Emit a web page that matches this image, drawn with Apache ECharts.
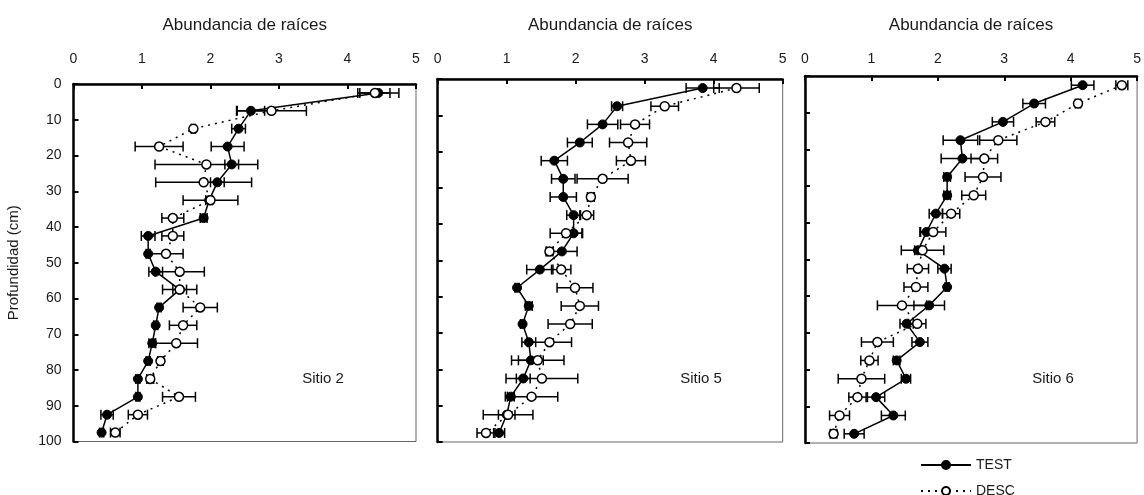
<!DOCTYPE html>
<html>
<head>
<meta charset="utf-8">
<script src="https://cdn.jsdelivr.net/npm/echarts@6/dist/echarts.min.js"></script>
<style>
html,body{margin:0;padding:0;background:#fff;}
#chart{width:1144px;height:495px;}
</style>
</head>
<body>
<div id="chart"></div>
<script>
// ---- data ----
const depths = [2.5, 7.5, 12.5, 17.5, 22.5, 27.5, 32.5, 37.5, 42.5, 47.5, 52.5, 57.5, 62.5, 67.5, 72.5, 77.5, 82.5, 87.5, 92.5, 97.5];
const yTicks = [0, 10, 20, 30, 40, 50, 60, 70, 80, 90, 100];
const xTicks = [0, 1, 2, 3, 4, 5];
const siteNames = ['Sitio 2', 'Sitio 5', 'Sitio 6'];
const legendNames = ['TEST', 'DESC'];

const s2Test    = [4.45, 2.59, 2.41, 2.25, 2.31, 2.10, 1.98, 1.90, 1.09, 1.09, 1.20, 1.55, 1.25, 1.20, 1.15, 1.09, 0.94, 0.94, 0.49, 0.41];
const s2TestErr = [0.30, 0.20, 0.10, 0.24, 0.10, 0.10, 0.05, 0.05, 0.10, 0.03, 0.10, 0.10, 0.03, 0.03, 0.05, 0.03, 0.03, 0.03, 0.09, 0.03];
const s2Desc    = [4.40, 2.89, 1.75, 1.25, 1.94, 1.90, 2.00, 1.45, 1.45, 1.35, 1.55, 1.55, 1.85, 1.60, 1.50, 1.27, 1.12, 1.54, 0.94, 0.61];
const s2DescErr = [0.22, 0.51, 0.03, 0.35, 0.75, 0.70, 0.40, 0.16, 0.16, 0.25, 0.36, 0.25, 0.25, 0.20, 0.31, 0.04, 0.05, 0.24, 0.14, 0.07];

const s5Test    = [3.84, 2.60, 2.39, 2.06, 1.69, 1.82, 1.82, 1.97, 1.97, 1.80, 1.48, 1.15, 1.32, 1.23, 1.32, 1.35, 1.24, 1.06, 1.00, 0.89];
const s5TestErr = [0.24, 0.08, 0.22, 0.18, 0.19, 0.17, 0.19, 0.10, 0.13, 0.22, 0.19, 0.03, 0.05, 0.03, 0.10, 0.18, 0.10, 0.05, 0.12, 0.08];
const s5Desc    = [4.33, 3.29, 2.86, 2.76, 2.80, 2.39, 2.22, 2.16, 1.86, 1.62, 1.79, 1.99, 2.06, 1.92, 1.62, 1.45, 1.51, 1.36, 1.02, 0.70];
const s5DescErr = [0.33, 0.20, 0.21, 0.27, 0.21, 0.37, 0.05, 0.10, 0.23, 0.05, 0.14, 0.26, 0.27, 0.32, 0.32, 0.38, 0.52, 0.38, 0.36, 0.13];

const s6Test    = [4.18, 3.45, 2.98, 2.34, 2.37, 2.14, 2.14, 1.97, 1.83, 1.70, 2.10, 2.14, 1.87, 1.53, 1.73, 1.38, 1.52, 1.07, 1.33, 0.74];
const s6TestErr = [0.17, 0.17, 0.16, 0.26, 0.32, 0.05, 0.05, 0.10, 0.10, 0.05, 0.10, 0.03, 0.23, 0.10, 0.12, 0.05, 0.07, 0.13, 0.18, 0.15];
const s6Desc    = [4.77, 4.11, 3.62, 2.91, 2.70, 2.68, 2.54, 2.20, 1.93, 1.77, 1.70, 1.67, 1.46, 1.69, 1.09, 0.97, 0.85, 0.79, 0.52, 0.43];
const s6DescErr = [0.09, 0.04, 0.14, 0.28, 0.20, 0.27, 0.18, 0.13, 0.19, 0.32, 0.16, 0.18, 0.37, 0.13, 0.24, 0.13, 0.35, 0.13, 0.15, 0.05];

// ---- layout / style ----
const FONT = '"Liberation Sans", Arial, Helvetica, sans-serif';
const TXT = '#1a1a1a';
const panels = [
  {grid: {left: 73.5, top: 84, width: 342.5, height: 357.5}, labelMargin: 18, nameGap: 50, yLabels: true,
   test: s2Test, testErr: s2TestErr, desc: s2Desc, descErr: s2DescErr, sitePos: [323, 379]},
  {grid: {left: 437.7, top: 79, width: 345, height: 363}, labelMargin: 13, nameGap: 45, yLabels: false,
   test: s5Test, testErr: s5TestErr, desc: s5Desc, descErr: s5DescErr, sitePos: [701, 379]},
  {grid: {left: 805, top: 76, width: 335, height: 367}, labelMargin: 10, nameGap: 42, yLabels: false,
   test: s6Test, testErr: s6TestErr, desc: s6Desc, descErr: s6DescErr, sitePos: [1053, 379]}
];

function errRender(params, api) {
  const x = api.value(0), e = api.value(1), y = api.value(2);
  const a = api.coord([x - e, y]);
  const b = api.coord([x + e, y]);
  const h = 5;
  const st = {stroke: '#000', lineWidth: 1.5, fill: null};
  return {
    type: 'group',
    children: [
      {type: 'line', shape: {x1: a[0], y1: a[1], x2: b[0], y2: b[1]}, style: st},
      {type: 'line', shape: {x1: a[0], y1: a[1] - h, x2: a[0], y2: a[1] + h}, style: st},
      {type: 'line', shape: {x1: b[0], y1: b[1] - h, x2: b[0], y2: b[1] + h}, style: st}
    ]
  };
}

const grid = [], xAxis = [], yAxis = [], series = [], graphic = [];
panels.forEach((p, i) => {
  grid.push(Object.assign({show: true, borderColor: '#666', borderWidth: 1, backgroundColor: 'transparent'}, p.grid));
  xAxis.push({
    gridIndex: i, type: 'value', position: 'top', min: xTicks[0], max: xTicks[xTicks.length - 1], interval: 1,
    name: 'Abundancia de raíces', nameLocation: 'middle', nameGap: p.nameGap,
    nameTextStyle: {fontFamily: FONT, fontSize: 17, color: TXT},
    axisLine: {show: true, onZero: false, lineStyle: {color: '#000', width: 2.5}},
    axisTick: {show: true, inside: true, length: 5, lineStyle: {color: '#000', width: 2}},
    axisLabel: {show: true, margin: p.labelMargin, fontFamily: FONT, fontSize: 14, color: TXT},
    splitLine: {show: false}
  });
  yAxis.push({
    gridIndex: i, type: 'value', inverse: true, min: yTicks[0], max: yTicks[yTicks.length - 1], interval: 10,
    name: i === 0 ? 'Profundidad (cm)' : '', nameLocation: 'middle', nameGap: 52, nameRotate: 90,
    nameTextStyle: {fontFamily: FONT, fontSize: 15, color: TXT},
    axisLine: {show: true, onZero: false, lineStyle: {color: '#000', width: 2.5}},
    axisTick: {show: true, inside: true, length: 5, lineStyle: {color: '#000', width: 2}},
    axisLabel: {show: p.yLabels, margin: 12, fontFamily: FONT, fontSize: 14, color: TXT},
    splitLine: {show: false}
  });
  series.push({
    type: 'custom', name: 'errTEST' + i, xAxisIndex: i, yAxisIndex: i, renderItem: errRender,
    encode: {x: 0, y: 2}, z: 2, silent: true,
    data: depths.map((d, k) => [p.test[k], p.testErr[k], d])
  });
  series.push({
    type: 'custom', name: 'errDESC' + i, xAxisIndex: i, yAxisIndex: i, renderItem: errRender,
    encode: {x: 0, y: 2}, z: 2, silent: true,
    data: depths.map((d, k) => [p.desc[k], p.descErr[k], d])
  });
  series.push({
    type: 'line', name: legendNames[0], xAxisIndex: i, yAxisIndex: i, z: 3,
    symbol: 'circle', symbolSize: 9, showAllSymbol: true,
    lineStyle: {color: '#000', width: 1.5},
    itemStyle: {color: '#000', borderColor: '#000', borderWidth: 1},
    emphasis: {disabled: true},
    data: depths.map((d, k) => [p.test[k], d])
  });
  series.push({
    type: 'line', name: legendNames[1], xAxisIndex: i, yAxisIndex: i, z: 4,
    symbol: 'circle', symbolSize: 9, showAllSymbol: true,
    lineStyle: {color: '#000', width: 1.5, type: [2, 5]},
    itemStyle: {color: '#fff', borderColor: '#000', borderWidth: 1.5},
    emphasis: {disabled: true},
    data: depths.map((d, k) => [p.desc[k], d])
  });
  graphic.push({
    type: 'text', x: p.sitePos[0], y: p.sitePos[1],
    style: {text: siteNames[i], fontFamily: FONT, fontSize: 15, fill: TXT, align: 'center', verticalAlign: 'middle'}
  });
});

const legendBase = {
  orient: 'horizontal', left: 920, padding: 0,
  itemWidth: 50, itemHeight: 10, itemGap: 8,
  textStyle: {fontFamily: FONT, fontSize: 14, color: TXT},
  selectedMode: false
};

const chart = echarts.init(document.getElementById('chart'), null, {renderer: 'canvas'});
chart.setOption({
  animation: false,
  backgroundColor: '#fff',
  grid, xAxis, yAxis, series, graphic,
  legend: [
    Object.assign({}, legendBase, {data: [legendNames[0]], top: 458}),
    Object.assign({}, legendBase, {data: [legendNames[1]], top: 484})
  ]
});
</script>
</body>
</html>
